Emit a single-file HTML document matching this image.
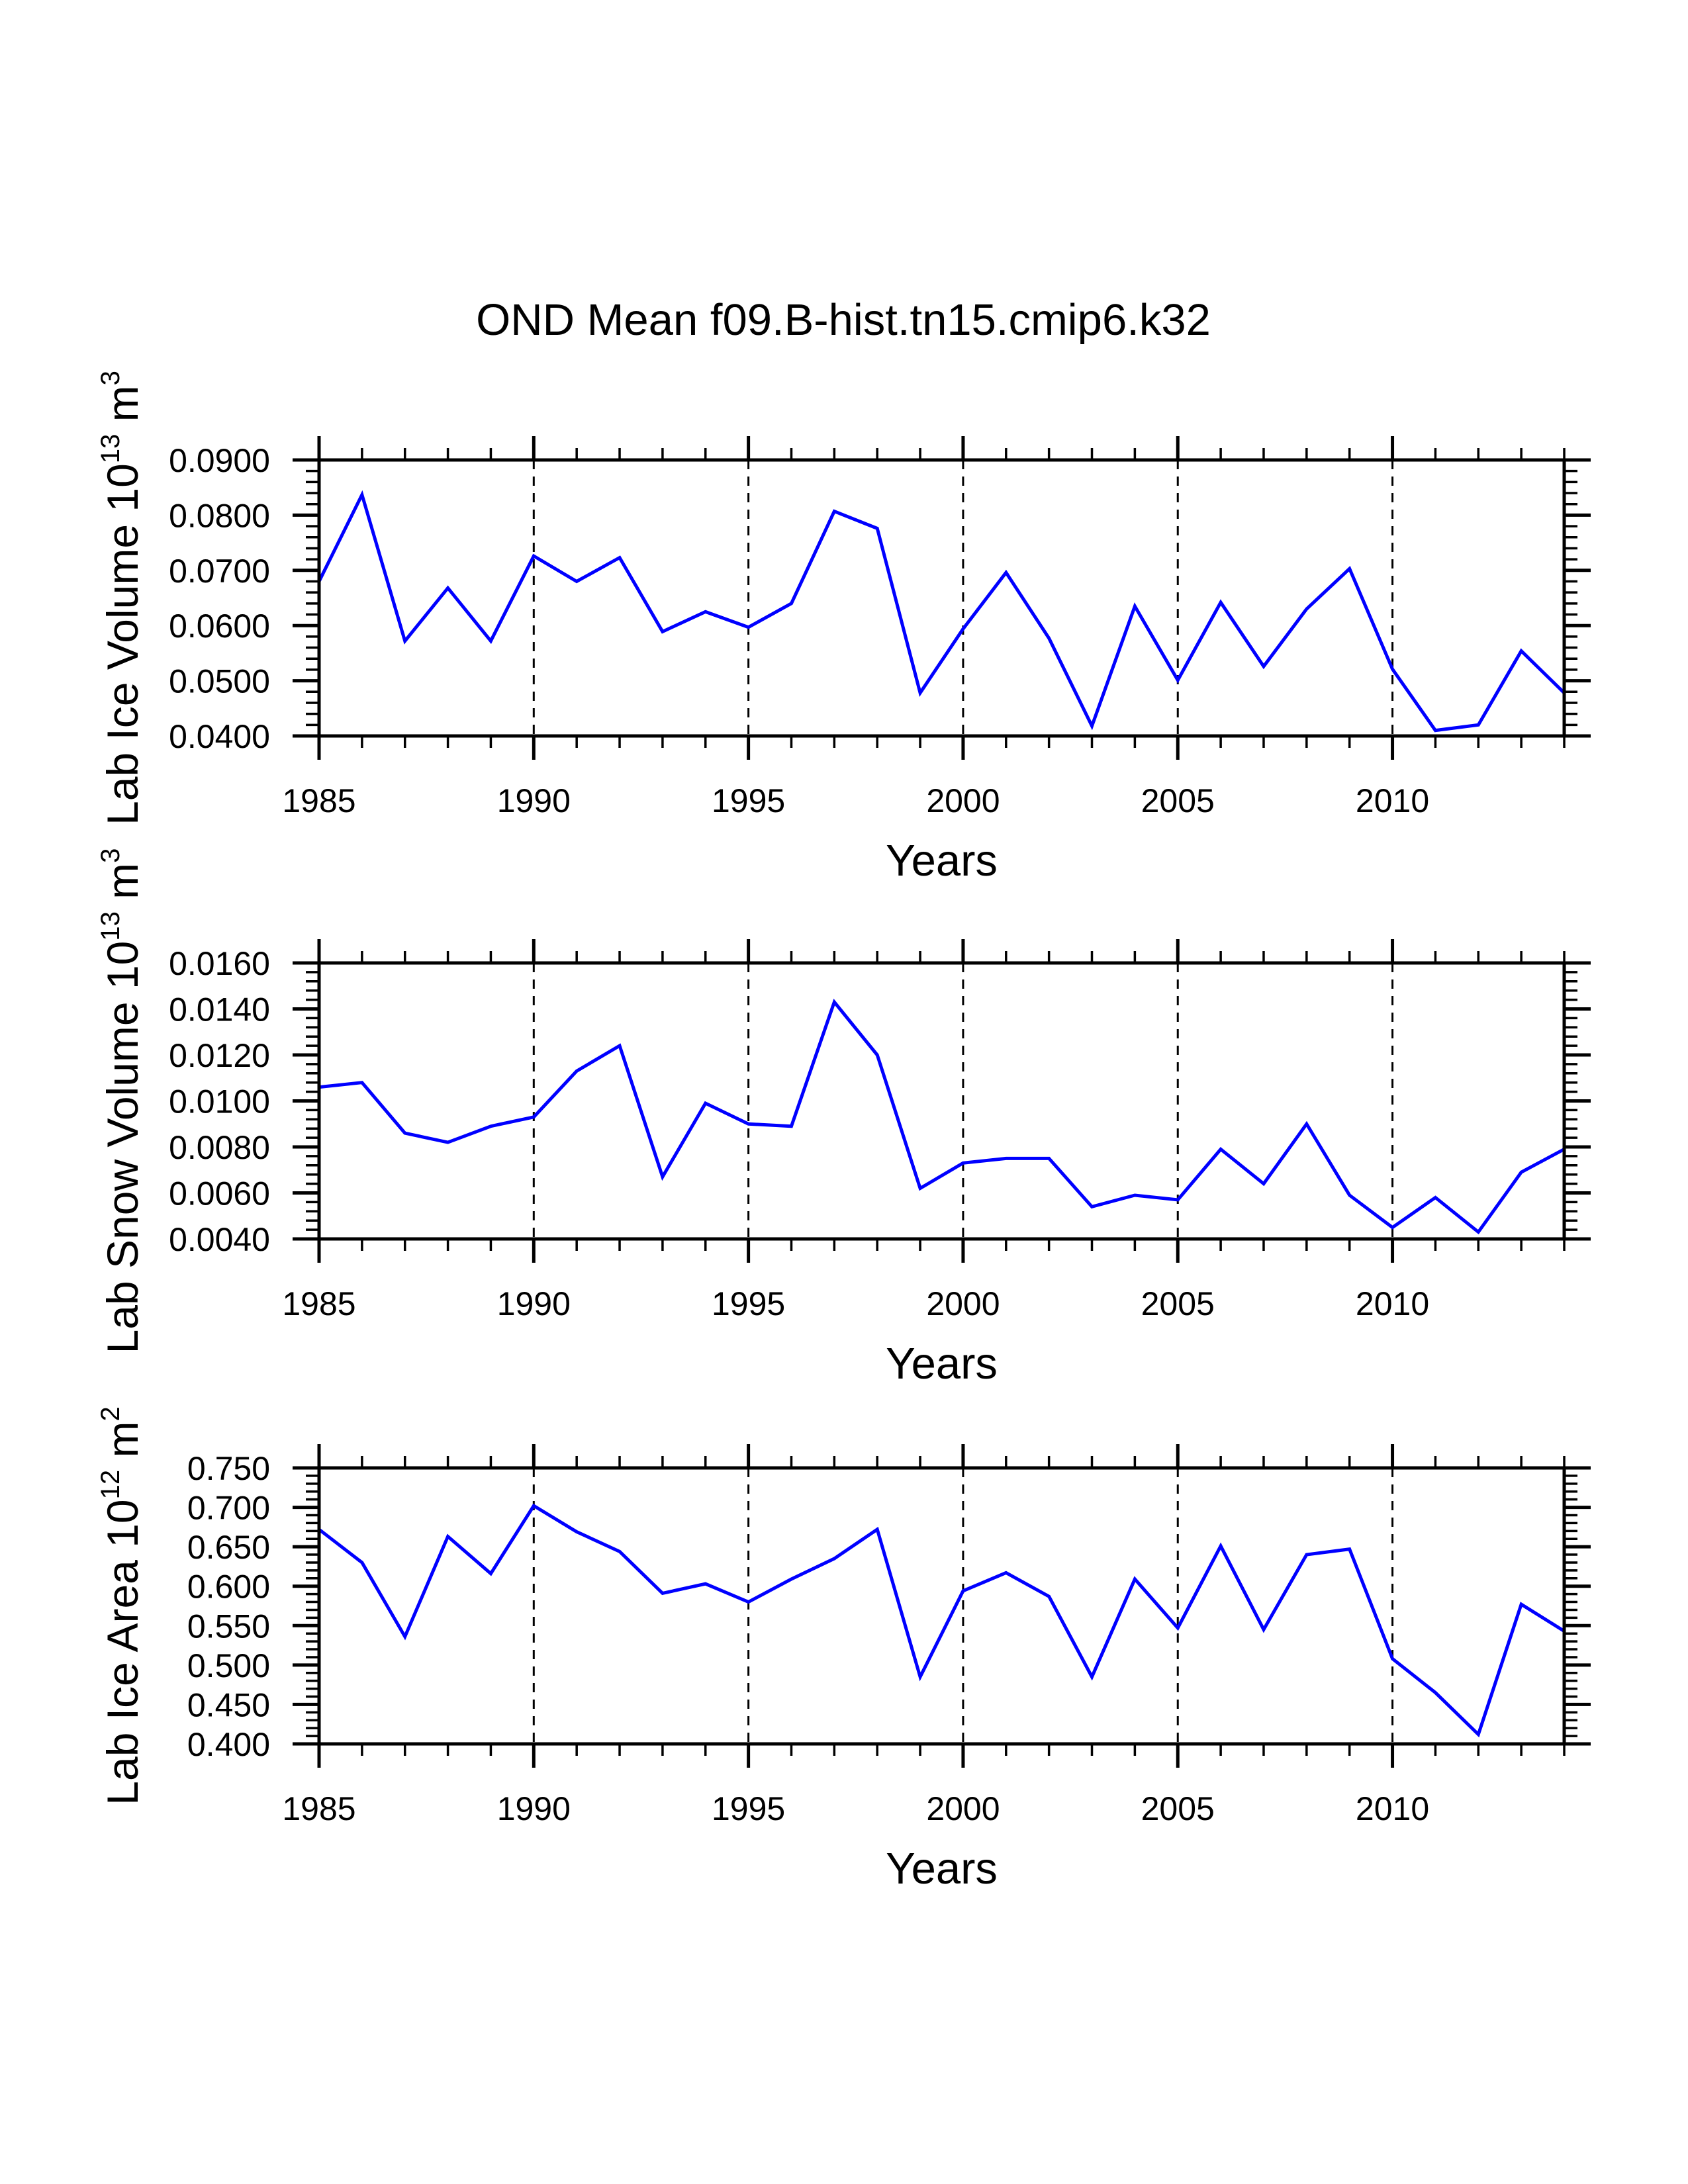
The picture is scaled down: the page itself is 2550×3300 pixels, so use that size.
<!DOCTYPE html>
<html><head><meta charset="utf-8"><style>
html,body{margin:0;padding:0;background:#fff}
svg{display:block;font-family:"Liberation Sans",Arial,sans-serif}
</style></head><body>
<svg id="chart" width="2550" height="3300" viewBox="0 0 2550 3300" xmlns="http://www.w3.org/2000/svg">
<rect width="2550" height="3300" fill="#fff"/>
<text x="1274" y="506" font-size="67" text-anchor="middle">OND Mean f09.B-hist.tn15.cmip6.k32</text>
</svg>
<script>
const years = [1985,1986,1987,1988,1989,1990,1991,1992,1993,1994,1995,1996,1997,1998,1999,2000,2001,2002,2003,2004,2005,2006,2007,2008,2009,2010,2011,2012,2013,2014];
const iceVolume = [0.068,0.0837,0.0572,0.0668,0.0572,0.0726,0.068,0.0723,0.0589,0.0625,0.0597,0.064,0.0807,0.0776,0.0478,0.0594,0.0696,0.0577,0.0418,0.0635,0.0501,0.0642,0.0526,0.063,0.0703,0.0521,0.041,0.042,0.0554,0.0478];
const snowVolume = [0.0106,0.0108,0.0086,0.0082,0.0089,0.0093,0.0113,0.0124,0.0067,0.0099,0.0090,0.0089,0.0143,0.0120,0.0062,0.0073,0.0075,0.0075,0.0054,0.0059,0.0057,0.0079,0.0064,0.0090,0.0059,0.0045,0.0058,0.0043,0.0069,0.0079];
const iceArea = [0.672,0.630,0.536,0.663,0.616,0.702,0.669,0.644,0.591,0.603,0.580,0.609,0.635,0.672,0.485,0.594,0.617,0.587,0.485,0.609,0.547,0.651,0.545,0.640,0.647,0.508,0.465,0.412,0.577,0.543];
const xTickLabels = ["1985","1990","1995","2000","2005","2010"];
const iceVolumeTicks = ["0.0400","0.0500","0.0600","0.0700","0.0800","0.0900"];
const snowVolumeTicks = ["0.0040","0.0060","0.0080","0.0100","0.0120","0.0140","0.0160"];
const iceAreaTicks = ["0.400","0.450","0.500","0.550","0.600","0.650","0.700","0.750"];

const NS="http://www.w3.org/2000/svg";
const svg=document.getElementById('chart');
const L=482,R=2363,H=417;
function el(tag,attrs,parent){const e=document.createElementNS(NS,tag);for(const k in attrs)e.setAttribute(k,attrs[k]);(parent||svg).appendChild(e);return e;}
const xs=y=>L+(y-1985)/(2014-1985)*(R-L);

function panel(top,name,vals,ticks,labelMain,exp,unitExp){
  const g=el('g',{});
  
  
  const bot=top+H;
  const tv=ticks.map(Number);const ymin=tv[0],ymax=tv[tv.length-1];
  const ys=v=>bot-(v-ymin)/(ymax-ymin)*H;
  for(let yr=1990;yr<=2010;yr+=5){
    const d=el('line',{x1:xs(yr),x2:xs(yr),y1:top,y2:bot,stroke:'#000','stroke-width':3,'stroke-dasharray':'14,11'},g);
    
    
  }
  for(let yr=1985;yr<=2014;yr++){
    const major=(yr%5===0);const len=major?36:18;const w=major?5:3.5;
    el('line',{x1:xs(yr),x2:xs(yr),y1:top-len,y2:top,stroke:'#000','stroke-width':w},g);
    el('line',{x1:xs(yr),x2:xs(yr),y1:bot,y2:bot+len,stroke:'#000','stroke-width':w},g);
  }
  xTickLabels.forEach(t=>{
    const tx=el('text',{x:xs(+t),y:bot+115,'font-size':50,'text-anchor':'middle'},g);
    tx.textContent=t;
    
    
  });
  const step=tv[1]-tv[0];
  for(let i=0;i<tv.length;i++){
    const y=ys(tv[i]);
    el('line',{x1:L-40,x2:L,y1:y,y2:y,stroke:'#000','stroke-width':5},g);
    el('line',{x1:R,x2:R+40,y1:y,y2:y,stroke:'#000','stroke-width':5},g);
    const tx=el('text',{x:L-74,y:y+18,'font-size':50,'text-anchor':'end'},g);
    tx.textContent=ticks[i];
    
    
    if(i<tv.length-1){for(let k=1;k<5;k++){const yy=ys(tv[i]+step*k/5);
      el('line',{x1:L-20,x2:L,y1:yy,y2:yy,stroke:'#000','stroke-width':3.5},g);
      el('line',{x1:R,x2:R+20,y1:yy,y2:yy,stroke:'#000','stroke-width':3.5},g);}}
  }
  const pts=vals.map((v,i)=>xs(years[i])+','+ys(v)).join(' ');
  const pl=el('polyline',{points:pts,fill:'none',stroke:'#0000ff','stroke-width':5,'stroke-linejoin':'miter'},g);
  
  
  const fr=el('rect',{x:L,y:top,width:R-L,height:H,fill:'none',stroke:'#000','stroke-width':5},g);
  
  
  const xt=el('text',{x:(L+R)/2,y:bot+211,'font-size':67,'text-anchor':'middle'},g);
  xt.textContent='Years';
  
  
  const cy=top+H/2;
  const yt=el('text',{x:0,y:0,'font-size':66,'text-anchor':'middle',transform:'translate(208,'+cy+') rotate(-90)'},g);
  
  
  const a=el('tspan',{},yt);a.textContent=labelMain+' 10';
  const b=el('tspan',{'font-size':40,dy:-28},yt);b.textContent=exp;
  const c=el('tspan',{dy:28},yt);c.textContent=' m';
  const d=el('tspan',{'font-size':40,dy:-28},yt);d.textContent=unitExp;
}
panel(695,'ice-volume',iceVolume,iceVolumeTicks,'Lab Ice Volume','13','3');
panel(1455,'snow-volume',snowVolume,snowVolumeTicks,'Lab Snow Volume','13','3');
panel(2218,'ice-area',iceArea,iceAreaTicks,'Lab Ice Area','12','2');
</script>
</body></html>
